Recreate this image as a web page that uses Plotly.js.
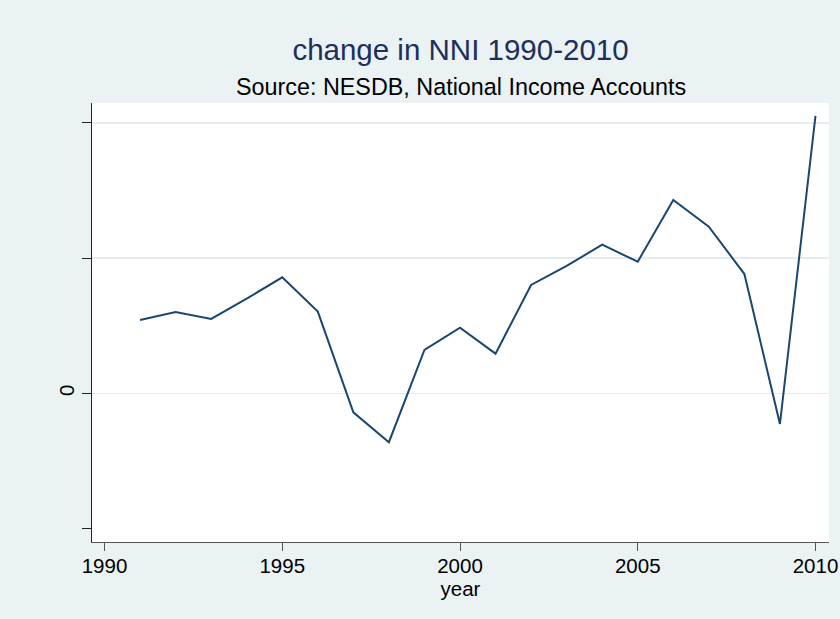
<!DOCTYPE html>
<html>
<head>
<meta charset="utf-8">
<script src="https://cdn.plot.ly/plotly-3.0.1.min.js"></script>
<style>
  html, body { margin: 0; padding: 0; background: #EAF2F3; }
  #chart { width: 840px; height: 619px; }
</style>
</head>
<body>
<div id="chart"></div>
<script>
// Data (units: one y tick step = 1; only 0 is labelled)
const years = [1991, 1992, 1993, 1994, 1995, 1996, 1997, 1998, 1999, 2000,
               2001, 2002, 2003, 2004, 2005, 2006, 2007, 2008, 2009, 2010];
const changeNNI = [0.542, 0.601, 0.550, 0.700, 0.858, 0.604, -0.141, -0.362, 0.320, 0.485,
                   0.293, 0.801, 0.942, 1.099, 0.973, 1.430, 1.232, 0.882, -0.227, 2.051];
const xTickVals = [1990, 1995, 2000, 2005, 2010];
const xTickText = ['1990', '1995', '2000', '2005', '2010'];
const yTickVals = [-1, 0, 1, 2];
const yTickText = ['', '0', '', ''];
const yGridVals = [0, 1, 2];

const FONT = '"Liberation Sans", Arial, Helvetica, sans-serif';
const BG = '#EAF2F3';

const trace = {
  x: years,
  y: changeNNI,
  type: 'scatter',
  mode: 'lines',
  line: { color: '#1A476F', width: 2 },
  hoverinfo: 'x+y',
  showlegend: false
};

const yRange = [-1.100, 2.147];

const layout = {
  width: 840,
  height: 619,
  paper_bgcolor: BG,
  plot_bgcolor: '#FFFFFF',
  margin: { l: 92, r: 11, t: 103, b: 77, pad: 0 },
  font: { family: FONT, color: '#000000', size: 20.5 },
  title: {
    text: 'change in NNI 1990-2010',
    font: { family: FONT, size: 29.5, color: '#1E2F5C' },
    x: 0.5, xref: 'paper', xanchor: 'center',
    y: 0.919, yref: 'container', yanchor: 'middle'
  },
  annotations: [{
    text: 'Source: NESDB, National Income Accounts',
    xref: 'paper', yref: 'paper',
    x: 0.5, y: 1.037, xanchor: 'center', yanchor: 'middle',
    showarrow: false,
    font: { family: FONT, size: 23.35, color: '#000000' }
  }],
  xaxis: {
    range: [1989.648, 2010.38],
    tickmode: 'array',
    tickvals: xTickVals,
    ticktext: xTickText,
    ticks: 'outside',
    ticklen: 8,
    tickwidth: 1,
    tickcolor: '#555555',
    ticklabelstandoff: -3,
    showline: true,
    linecolor: '#555555',
    linewidth: 1,
    showgrid: false,
    zeroline: false,
    tickfont: { family: FONT, size: 20.5, color: '#000000' },
    title: { text: 'year', font: { family: FONT, size: 20.5, color: '#000000' }, standoff: 0 }
  },
  yaxis: {
    range: yRange,
    tickmode: 'array',
    tickvals: yTickVals,
    ticktext: yTickText,
    tickangle: -90,
    ticks: 'outside',
    ticklen: 9,
    tickwidth: 1,
    tickcolor: '#222222',
    showline: true,
    linecolor: '#222222',
    linewidth: 1,
    showgrid: false,
    zeroline: false,
    tickfont: { family: FONT, size: 20.5, color: '#000000' }
  },
  yaxis2: {
    range: yRange,
    overlaying: 'y',
    side: 'left',
    tickmode: 'array',
    tickvals: yGridVals,
    showticklabels: false,
    ticks: '',
    showline: false,
    showgrid: true,
    gridcolor: '#E4ECEF',
    gridwidth: 1.5,
    zeroline: false
  }
};

// invisible helper trace so the overlay axis (grid only) is drawn
const gridHelper = {
  x: [years[0]], y: [changeNNI[0]], yaxis: 'y2', type: 'scatter', mode: 'markers',
  marker: { opacity: 0 }, hoverinfo: 'skip', showlegend: false
};

Plotly.newPlot('chart', [gridHelper, trace], layout, { displayModeBar: false, staticPlot: true });
</script>
</body>
</html>
